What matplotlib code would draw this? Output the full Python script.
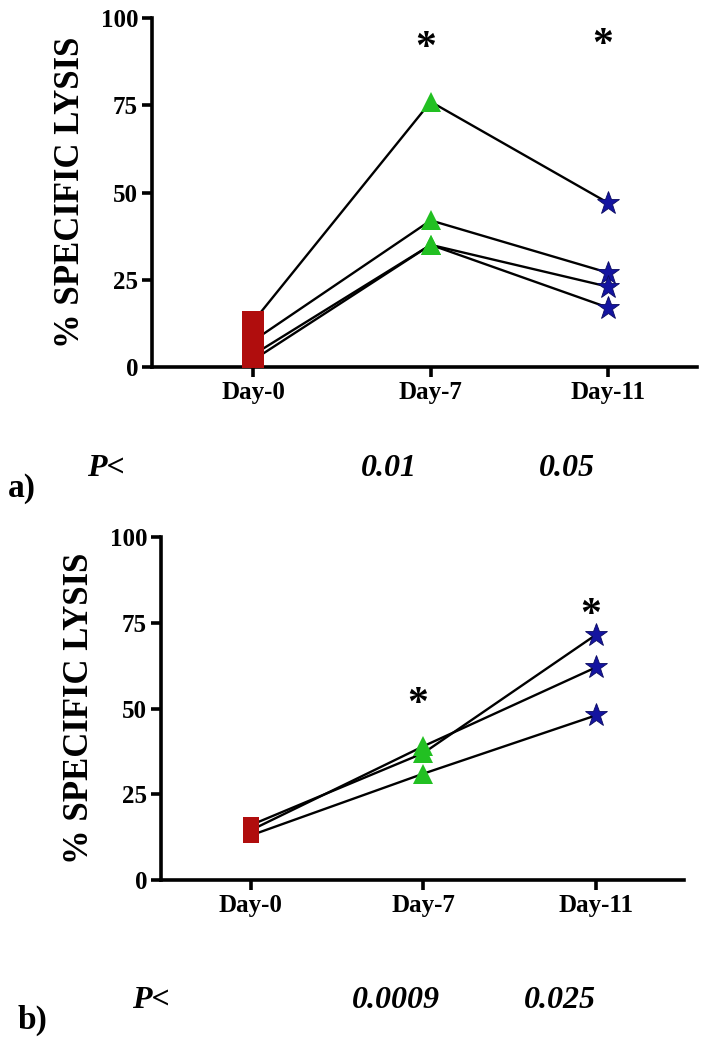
import matplotlib
matplotlib.use('Agg')
import matplotlib.pyplot as plt

# Данные
days = ['Day-0', 'Day-7', 'Day-11']

a_day0 = [13, 7.5, 3.5, 2]
a_day7 = [76, 42, 35, 35]
a_day11 = [47, 27, 23, 17]
a_stars = [91, 92]
a_pvals = ['0.01', '0.05']

b_day0 = [16, 14.5, 13]
b_day7 = [37, 39, 31]
b_day11 = [71.5, 62, 48]
b_stars = [51, 77]
b_pvals = ['0.0009', '0.025']

yticks = [0, 25, 50, 75, 100]

red = '#b00d0d'
green = '#22c022'
blue = '#1414a0'
serif = 'Liberation Serif'

W, H = 716, 1050
fig = plt.figure(figsize=(W / 100, H / 100), dpi=100)


def panel(rect, xlim, d0, d7, d11, stars, sq):
    ax = fig.add_axes(rect)
    for v0, v7, v11 in zip(d0, d7, d11):
        ax.plot([0, 1, 2], [v0, v7, v11], color='black', lw=1.7, zorder=2)
    ax.plot([0] * len(d0), d0, 's', color=red, ms=sq, mew=0, zorder=3)
    ax.plot([1] * len(d7), d7, '^', color=green, ms=15, mew=0, zorder=3)
    ax.plot([2] * len(d11), d11, '*', color=blue, ms=17, mec='#0a0a60', mew=0.6, zorder=3)
    for x, y in zip([1, 2], stars):
        ax.text(x - 0.03, y, '*', ha='center', va='center', fontsize=30,
                fontweight='bold', family=serif)
    ax.set_xlim(*xlim)
    ax.set_ylim(0, 100)
    ax.set_xticks([0, 1, 2])
    ax.set_xticklabels(days)
    ax.set_yticks(yticks)
    ax.spines['top'].set_visible(False)
    ax.spines['right'].set_visible(False)
    for s in ['left', 'bottom']:
        ax.spines[s].set_linewidth(2.6)
    ax.tick_params(width=2.6, length=7, direction='out', pad=3)
    for lab in ax.get_xticklabels() + ax.get_yticklabels():
        lab.set_family(serif)
        lab.set_fontweight('bold')
        lab.set_fontsize(18)
    ax.set_ylabel('% SPECIFIC LYSIS', family=serif, fontweight='bold',
                  fontsize=25, labelpad=10)
    return ax


# Панель a
panel([152 / W, 1 - 367 / H, (697 - 152) / W, (367 - 18) / H], (-0.57, 2.5),
      a_day0, a_day7, a_day11, a_stars, 15.5)
# Панель b
panel([161 / W, 1 - 880 / H, (684 - 161) / W, (880 - 537) / H], (-0.52, 2.51),
      b_day0, b_day7, b_day11, b_stars, 11)

# Подписи P
pstyle = dict(family=serif, fontweight='bold', style='italic', fontsize=23, va='center')
fig.text(87 / W, 1 - 468 / H, 'P<', ha='left', **pstyle)
fig.text(389 / W, 1 - 468 / H, a_pvals[0], ha='center', **pstyle)
fig.text(567 / W, 1 - 468 / H, a_pvals[1], ha='center', **pstyle)
fig.text(132 / W, 1 - 1001 / H, 'P<', ha='left', **pstyle)
fig.text(396 / W, 1 - 1001 / H, b_pvals[0], ha='center', **pstyle)
fig.text(560 / W, 1 - 1001 / H, b_pvals[1], ha='center', **pstyle)

lstyle = dict(family=serif, fontweight='bold', fontsize=24, va='center', ha='left')
fig.text(8 / W, 1 - 488 / H, 'a)', **lstyle)
fig.text(18 / W, 1 - 1020 / H, 'b)', **lstyle)

fig.savefig('out.png', dpi=100)
